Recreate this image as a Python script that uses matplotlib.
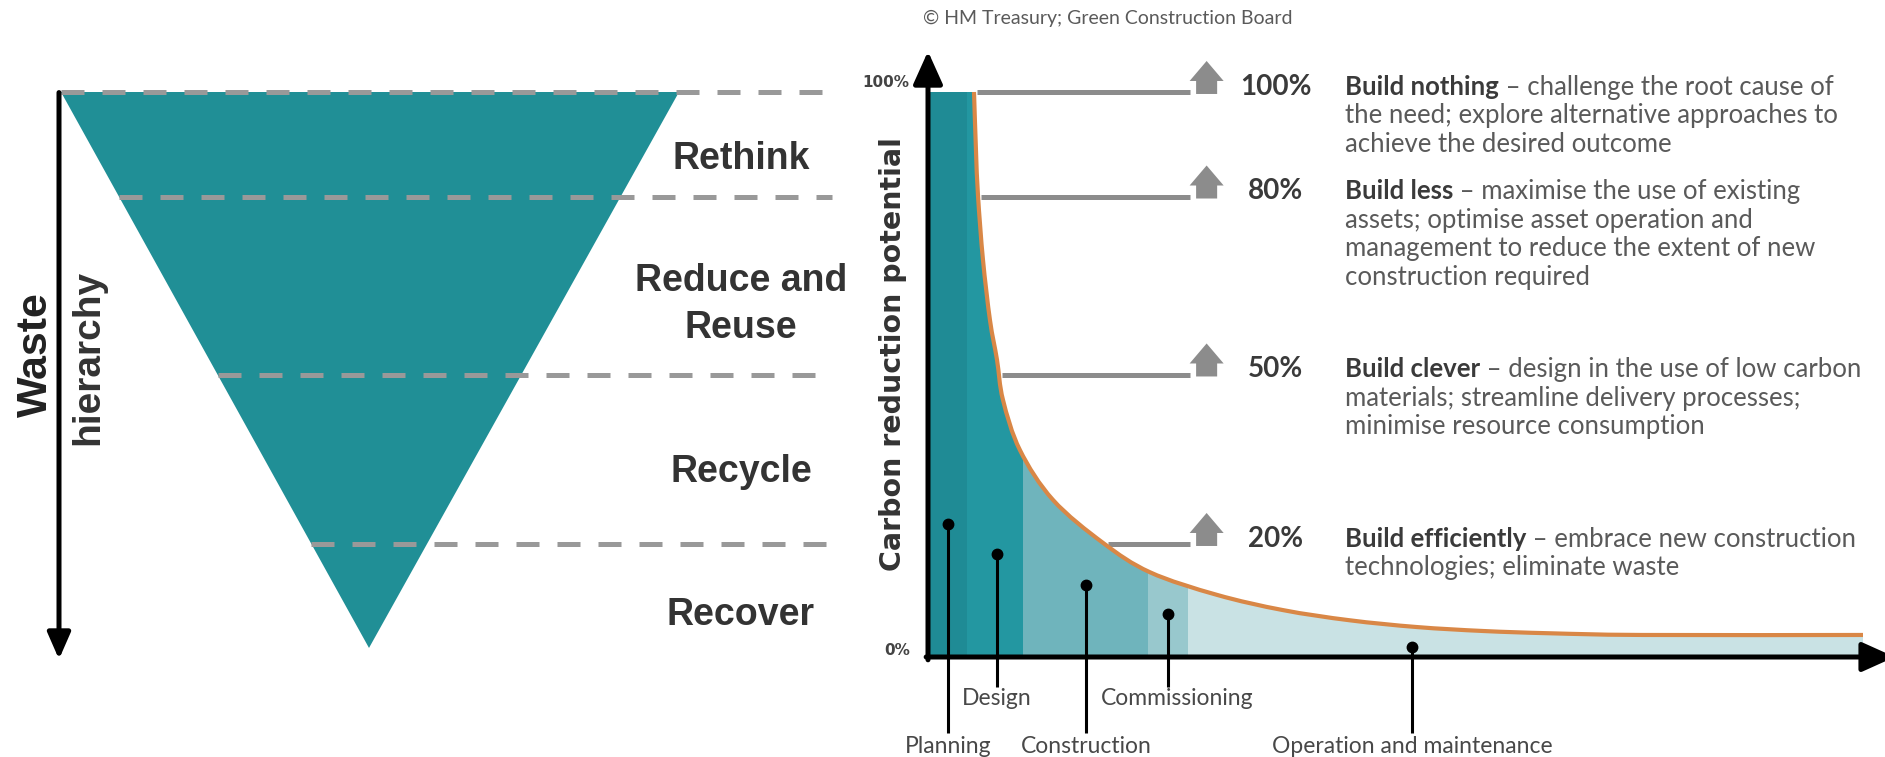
import numpy as np
import matplotlib
matplotlib.use("Agg")
import matplotlib.pyplot as plt
from matplotlib.patches import Polygon, FancyArrow, PathPatch, Rectangle
from matplotlib.path import Path

# ---------------- data ----------------
# Waste hierarchy stages (top to bottom)
stages = ["Rethink", "Reduce and\nReuse", "Recycle", "Recover"]

# Carbon reduction potential levels (label, vertical position in %)
level_labels = ["100%", "80%", "50%", "20%"]
level_y = [100, 81.5, 50, 20]
level_bold = ["Build nothing", "Build less", "Build clever", "Build efficiently"]
level_text = [
    [" – challenge the root cause of",
     "the need; explore alternative approaches to",
     "achieve the desired outcome"],
    [" – maximise the use of existing",
     "assets; optimise asset operation and",
     "management to reduce the extent of new",
     "construction required"],
    [" – design in the use of low carbon",
     "materials; streamline delivery processes;",
     "minimise resource consumption"],
    [" – embrace new construction",
     "technologies; eliminate waste"],
]

# Carbon reduction potential curve (x = project lifecycle, y = %)
curve_x = [0.0, 4.92, 5.13, 5.35, 5.88, 6.63, 7.38, 8.02, 9.84, 13.37, 18.72,
           23.74, 30.9, 37.97, 45.1, 52.3, 59.4, 66.5, 76.4, 100.0]
curve_y = [100, 100, 89.7, 81.6, 70.3, 59.6, 52.6, 45.5, 36.6, 27.8, 20.2,
           15.0, 11.0, 8.3, 6.5, 5.3, 4.6, 4.2, 3.9, 3.9]

# Lifecycle phases
phases = ["Planning", "Design", "Construction", "Commissioning",
          "Operation and maintenance"]
phase_start = [0.0, 4.2, 10.16, 23.5, 27.8]
phase_colors = ["#1f8b95", "#2397a1", "#6fb4bc", "#98c8cd", "#c9e2e4"]
dot_x = [2.14, 7.38, 16.9, 25.67, 51.76]
dot_y = [23.5, 18.2, 12.7, 7.6, 1.8]
phase_row = [1, 0, 1, 0, 1]   # 1 = lower label row

# ---------------- figure ----------------
W, H = 1885, 757
fig = plt.figure(figsize=(W / 100, H / 100), dpi=100)
fig.patch.set_facecolor("white")

bottom = (H - 657) / H
height = (657 - 92) / H
ax = fig.add_axes([928 / W, bottom, (1863 - 928) / W, height])
ax.set_xlim(0, 100)
ax.set_ylim(0, 100)
ax.axis("off")

axL = fig.add_axes([0, bottom, 928 / W, height])
axL.set_xlim(0, 928)
axL.set_ylim(0, 100)
axL.axis("off")

TEAL = "#208f96"
GREY = "#999999"
LGREY = "#8c8c8c"
ORANGE = "#d98746"

# ---------------- left: waste hierarchy ----------------
tri_left, tri_right, tri_apex_x, apex_y = 61, 679, 369, 1.6
axL.add_patch(Polygon([[tri_left, 100], [tri_right, 100], [tri_apex_x, apex_y]],
                      closed=True, fc=TEAL, ec="none", zorder=1))
for lv in level_y:
    xs = tri_left + (tri_apex_x - tri_left) * (100 - lv) / (100 - apex_y)
    axL.plot([xs, 832], [lv, lv], color=GREY, lw=3.6, zorder=2,
             dashes=(4.6, 3.6), solid_capstyle="butt", dash_capstyle="butt",
             clip_on=False)

bounds = level_y + [0]
stage_shift = [2.6, 3.4, 2.3, 2.6]
for i, s in enumerate(stages):
    yc = (bounds[i] + bounds[i + 1]) / 2 - stage_shift[i]
    axL.text(741, yc, s, ha="center", va="center", fontsize=27,
             family="Liberation Sans", weight="bold", color="#333333",
             linespacing=1.4)

axL.annotate("", xy=(59, -0.4), xytext=(59, 99.9), annotation_clip=False,
             arrowprops=dict(arrowstyle="-|>,head_length=0.8,head_width=0.35",
                             lw=3.6, color="black", mutation_scale=20,
                             shrinkA=0, shrinkB=0))
axL.text(36, 53.5, "Waste", rotation=90, ha="center", va="center", fontsize=31,
         family="Liberation Sans", weight="bold", color="#222222")
axL.text(88, 53.0, "hierarchy", rotation=90, ha="center", va="center",
         fontsize=28, family="Liberation Sans", weight="bold", color="#333333")

# ---------------- right: carbon reduction curve ----------------
P = np.column_stack([curve_x[1:], curve_y[1:]])
n = len(P)
cverts = [P[0]]
ccodes = [Path.MOVETO]
for i in range(n - 1):
    p0 = P[i - 1] if i > 0 else P[i]
    p1, p2 = P[i], P[i + 1]
    p3 = P[i + 2] if i + 2 < n else P[i + 1]
    cverts += [p1 + (p2 - p0) / 6, p2 - (p3 - p1) / 6, p2]
    ccodes += [Path.CURVE4] * 3
curve_path = Path(cverts, ccodes)

area_verts = [(0, 0), (curve_x[0], curve_y[0])] + cverts + [(100, 0), (0, 0)]
area_codes = [Path.MOVETO, Path.LINETO, Path.LINETO] + ccodes[1:] + \
             [Path.LINETO, Path.CLOSEPOLY]
area = PathPatch(Path(area_verts, area_codes), fc="none", ec="none",
                 transform=ax.transData)
ax.add_patch(area)
for s, c in zip(phase_start, phase_colors):
    r = Rectangle((s, 0), 100 - s, 100, fc=c, ec="none", zorder=1)
    ax.add_patch(r)
    r.set_clip_path(area)

ax.add_patch(PathPatch(curve_path, fill=False, ec=ORANGE, lw=3.0, zorder=3,
                       capstyle="butt", clip_on=False))

# level lines + block arrows
cx = np.array(curve_x[1:])
cy = np.array(curve_y[1:])
for lv in level_y:
    xs = np.interp(lv, cy[::-1], cx[::-1]) + 0.35
    ax.plot([xs, 28.0], [lv, lv], color=LGREY, lw=3.6, solid_capstyle="butt",
            zorder=2, clip_on=False)
    ax.add_patch(FancyArrow(29.8, lv - 0.35, 0, 5.84, width=2.25,
                            head_width=3.64, head_length=3.54,
                            length_includes_head=True, fc=LGREY, lw=0,
                            zorder=2, clip_on=False))

# stems
for i, (px, py) in enumerate(zip(dot_x, dot_y)):
    ybot = -13.45 if phase_row[i] else -5.3
    ylab = -15.9 if phase_row[i] else -7.3
    ax.plot([px, px], [py, ybot], color="black", lw=2.2, zorder=4, clip_on=False,
            solid_capstyle="butt")
    ax.plot([px], [py], "o", color="black", ms=7.5, zorder=4, clip_on=False)
    ax.text(px + (1.0 if i == 3 else 0), ylab, phases[i], ha="center",
            va="center", fontsize=16.5, family="Lato", color="#484848")

# axes arrows
ax.annotate("", xy=(0, 107.2), xytext=(0, -0.5), annotation_clip=False,
            arrowprops=dict(arrowstyle="-|>,head_length=1.0,head_width=0.45",
                            lw=3.6, color="black", mutation_scale=20,
                            shrinkA=0, shrinkB=0), zorder=5)
ax.annotate("", xy=(103.4, 0), xytext=(-0.2, 0), annotation_clip=False,
            arrowprops=dict(arrowstyle="-|>,head_length=1.0,head_width=0.45",
                            lw=3.6, color="black", mutation_scale=20,
                            shrinkA=0, shrinkB=0), zorder=5)

ax.text(-1.95, 101.6, "100%", ha="right", va="center", fontsize=11,
        family="DejaVu Sans", weight="bold", color="#444444")
ax.text(-1.95, 1.2, "0%", ha="right", va="center", fontsize=11,
        family="DejaVu Sans", weight="bold", color="#444444")
ax.text(-3.75, 53.6, "Carbon reduction potential", rotation=90, ha="center",
        va="center", fontsize=20.5, family="DejaVu Sans", weight="bold",
        color="#333333")
ax.text(-0.53, 113.1, "© HM Treasury; Green Construction Board", ha="left",
        va="center", fontsize=14, family="Lato", color="#5a5a5a")

# percentages and descriptions
renderer = fig.canvas.get_renderer()
line_step = 5.04
for lv, lab, bold, lines in zip(level_y, level_labels, level_bold, level_text):
    base = lv - 0.5
    ax.text(37.2, base, lab, ha="center", va="baseline", fontsize=20,
            family="Lato", weight="bold", color="#3a3a3a")
    tb = ax.text(44.6, base, bold, ha="left", va="baseline", fontsize=18.5,
                 family="Lato", weight="bold", color="#3a3a3a")
    wpt = tb.get_window_extent(renderer).width * 72 / fig.dpi
    ax.annotate(lines[0], xy=(44.6, base), xytext=(wpt, 0),
                textcoords="offset points", ha="left", va="baseline",
                fontsize=18.5, family="Lato", color="#5a5a5a",
                annotation_clip=False)
    for k, ln in enumerate(lines[1:], start=1):
        ax.text(44.6, base - k * line_step, ln, ha="left", va="baseline",
                fontsize=18.5, family="Lato", color="#5a5a5a")

fig.savefig("out.png", dpi=100, facecolor="white")
